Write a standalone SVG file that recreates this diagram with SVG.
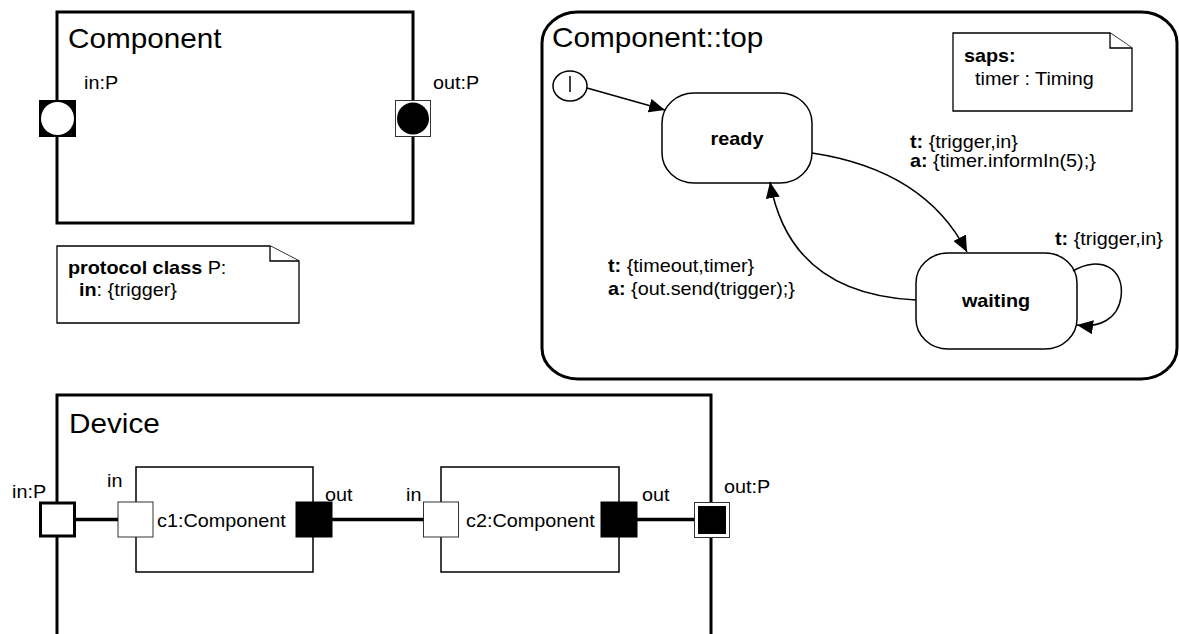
<svg xmlns="http://www.w3.org/2000/svg" width="1179" height="634" viewBox="0 0 1179 634">
<style>
text{font-family:"Liberation Sans",Arial,Helvetica,sans-serif;font-size:18px;fill:#000}
.title{font-size:27px}
.b{font-weight:bold}
.mid{text-anchor:middle}
.frame{fill:#fff;stroke:#000;stroke-width:3}
.box{fill:#fff;stroke:#000;stroke-width:1.5}
.note{fill:#fff;stroke:#000;stroke-width:1.3}
.pin{fill:#fff;stroke:#333;stroke-width:1}
.pfill{fill:#000;stroke:#000;stroke-width:1}
.wire{stroke:#000;stroke-width:3.5;fill:none}
.tr{stroke:#000;stroke-width:1.5;fill:none;marker-end:url(#arr)}
</style>
<defs>
<marker id="arr" markerUnits="userSpaceOnUse" markerWidth="17" markerHeight="14" refX="16" refY="7" orient="auto">
<path d="M0,0 L16,7 L0,14 Z" fill="#000"/>
</marker>
</defs>

<g id="component">
<rect class="frame" x="57" y="12" width="356" height="211"/>
<text class="title" transform="translate(68,48) scale(1.1,1)">Component</text>
<g id="component-in">
<rect x="39" y="100" width="37" height="37" fill="#000"/>
<circle cx="57.5" cy="118.5" r="16.5" fill="#fff"/>
<text transform="translate(84,89) scale(1.1,1)">in:P</text>
</g>
<g id="component-out">
<rect class="pin" x="395.5" y="100.5" width="35" height="36"/>
<circle cx="413" cy="118.5" r="16" fill="#000"/>
<text transform="translate(433,89) scale(1.1,1)">out:P</text>
</g>
</g>

<g id="protocol-note">
<path class="note" d="M57,246 L270,246 L299,261 L299,323 L57,323 Z"/>
<path class="note" d="M270,246 L270,261 L299,261"/>
<text transform="translate(68,274) scale(1.1,1)"><tspan class="b">protocol class</tspan> P:</text>
<text transform="translate(79,296) scale(1.1,1)"><tspan class="b">in</tspan>: {trigger}</text>
</g>

<g id="statemachine">
<rect class="frame" x="542" y="12" width="635" height="367" rx="36" ry="31"/>
<text class="title" transform="translate(552,47) scale(1.1,1)">Component::top</text>
</g>

<g id="saps-note">
<path class="note" d="M953,33 L1110,33 L1132,48 L1132,111 L953,111 Z"/>
<path class="note" d="M1110,33 L1110,48 L1132,48"/>
<text transform="translate(964,62) scale(1.1,1)" class="b">saps:</text>
<text transform="translate(975,85) scale(1.1,1)">timer : Timing</text>
</g>

<g id="initial">
<ellipse class="box" cx="570" cy="86" rx="17" ry="15"/>
<line x1="570" y1="76" x2="570" y2="92" stroke="#000" stroke-width="1.5"/>
</g>

<g id="ready">
<rect class="box" x="662" y="93" width="150" height="90" rx="32" ry="30"/>
<text class="b mid" transform="translate(737,145) scale(1.1,1)">ready</text>
</g>

<g id="waiting">
<rect class="box" x="916" y="253" width="161" height="96" rx="32" ry="30"/>
<text class="b mid" transform="translate(996,307) scale(1.1,1)">waiting</text>
</g>

<g id="device">
<rect class="frame" x="57" y="395" width="654" height="290"/>
<text class="title" transform="translate(69,433) scale(1.1,1)">Device</text>
<g id="device-in">
<rect x="40.5" y="503" width="34" height="33" fill="#fff" stroke="#000" stroke-width="3"/>
<text transform="translate(12,498) scale(1.1,1)">in:P</text>
</g>
<g id="device-out">
<rect class="pin" x="694.5" y="502.5" width="35" height="35"/>
<rect x="698" y="506" width="28" height="28" fill="#000"/>
<text transform="translate(724,493) scale(1.1,1)">out:P</text>
</g>
</g>

<g id="c1">
<rect class="box" x="136" y="467" width="177" height="105"/>
<rect class="pin" x="118" y="502" width="35" height="35"/>
<rect class="pfill" x="296" y="502" width="36" height="35"/>
<text transform="translate(107,487) scale(1.1,1)">in</text>
<text transform="translate(325,501) scale(1.1,1)">out</text>
<text transform="translate(157,527) scale(1.1,1)">c1:Component</text>
</g>

<g id="c2">
<rect class="box" x="441" y="467" width="178" height="105"/>
<rect class="pin" x="423.5" y="502" width="35" height="35"/>
<rect class="pfill" x="601" y="502" width="36" height="35"/>
<text transform="translate(406,501) scale(1.1,1)">in</text>
<text transform="translate(642,501) scale(1.1,1)">out</text>
<text transform="translate(466,527) scale(1.1,1)">c2:Component</text>
</g>

<g id="connectors">
<path class="tr" d="M587,88 L665,110"/>
<path class="tr" d="M812,153 Q925,170 967,252"/>
<path class="tr" d="M916,300 Q790,294 770,182"/>
<path class="tr" d="M1073,271 C1100,255 1125,268 1121,297 C1118,320 1098,328 1077,325"/>
<line class="wire" x1="76" y1="519.5" x2="118" y2="519.5"/>
<line class="wire" x1="332" y1="519.5" x2="423.5" y2="519.5"/>
<line class="wire" x1="637" y1="519.5" x2="694.5" y2="519.5"/>
<text transform="translate(910,148) scale(1.1,1)"><tspan class="b">t:</tspan> {trigger,in}</text>
<text transform="translate(910,167) scale(1.1,1)"><tspan class="b">a:</tspan> {timer.informIn(5);}</text>
<text transform="translate(608,272) scale(1.1,1)"><tspan class="b">t:</tspan> {timeout,timer}</text>
<text transform="translate(608,295) scale(1.1,1)"><tspan class="b">a:</tspan> {out.send(trigger);}</text>
<text transform="translate(1055,245) scale(1.1,1)"><tspan class="b">t:</tspan> {trigger,in}</text>
</g>
</svg>
